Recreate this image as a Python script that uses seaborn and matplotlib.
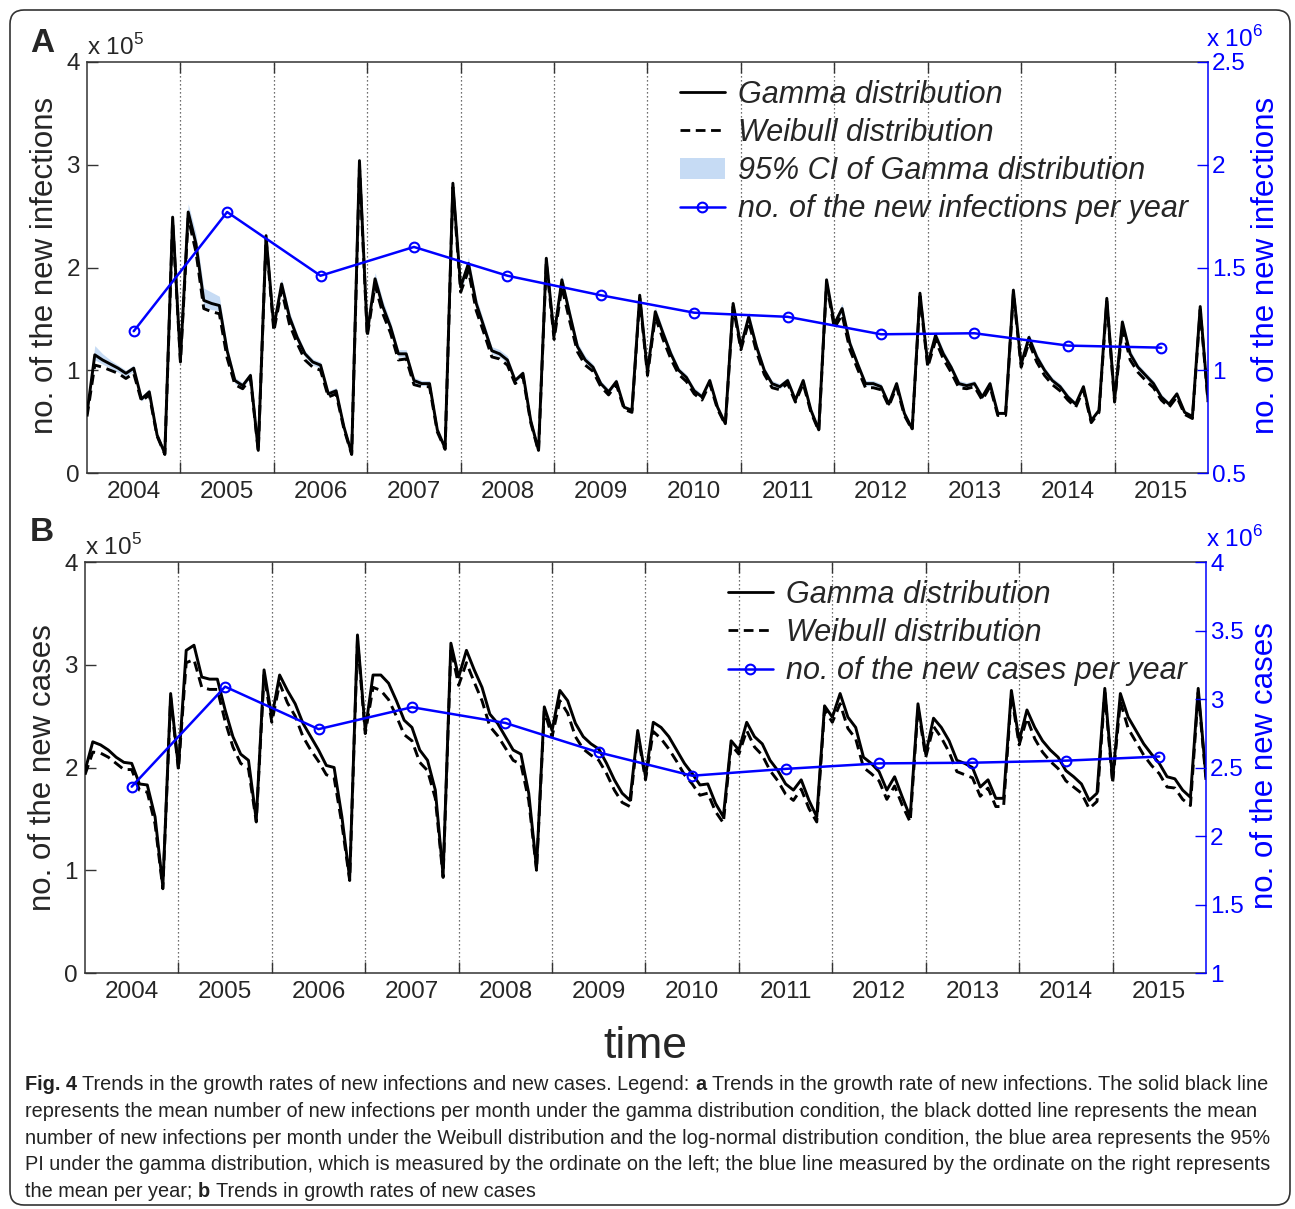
import matplotlib
matplotlib.use("Agg")
import matplotlib.pyplot as plt
import matplotlib.font_manager as fm
from matplotlib.lines import Line2D
from matplotlib.patches import Patch, FancyBboxPatch
from matplotlib.transforms import IdentityTransform
import numpy as np
import pandas as pd
import seaborn as sns

# monthly values, Jan 2004 .. Jan 2016, in units of 10^5
gamma_inf = [0.58, 1.15, 1.10, 1.06, 1.02, 0.97, 1.02, 0.72, 0.79, 0.37, 0.19, 2.49,
             1.10, 2.54, 2.23, 1.68, 1.65, 1.63, 1.19, 0.90, 0.85, 0.95, 0.22, 2.31,
             1.42, 1.84, 1.52, 1.32, 1.16, 1.08, 1.05, 0.77, 0.80, 0.45, 0.19, 3.04,
             1.36, 1.89, 1.62, 1.42, 1.16, 1.16, 0.90, 0.87, 0.87, 0.42, 0.24, 2.82,
             1.81, 2.04, 1.65, 1.42, 1.19, 1.16, 1.10, 0.90, 0.97, 0.51, 0.22, 2.09,
             1.34, 1.88, 1.55, 1.23, 1.10, 1.03, 0.87, 0.79, 0.89, 0.64, 0.61, 1.73,
             0.98, 1.57, 1.36, 1.16, 1.00, 0.93, 0.80, 0.74, 0.90, 0.64, 0.48, 1.65,
             1.23, 1.52, 1.23, 1.00, 0.87, 0.84, 0.90, 0.71, 0.90, 0.61, 0.42, 1.88,
             1.45, 1.60, 1.26, 1.06, 0.87, 0.87, 0.84, 0.67, 0.87, 0.58, 0.43, 1.75,
             1.06, 1.34, 1.16, 1.03, 0.87, 0.85, 0.87, 0.74, 0.87, 0.58, 0.58, 1.78,
             1.06, 1.32, 1.13, 1.00, 0.90, 0.84, 0.74, 0.67, 0.84, 0.51, 0.61, 1.70,
             0.71, 1.47, 1.16, 1.03, 0.95, 0.87, 0.74, 0.67, 0.77, 0.59, 0.55, 1.62,
             0.71]
weibull_inf = [0.55, 1.05, 1.03, 1.00, 0.97, 0.92, 0.97, 0.70, 0.76, 0.36, 0.18, 2.45,
               1.08, 2.48, 2.15, 1.60, 1.57, 1.55, 1.12, 0.86, 0.82, 0.92, 0.21, 2.28,
               1.38, 1.78, 1.45, 1.26, 1.10, 1.03, 1.00, 0.74, 0.77, 0.43, 0.18, 2.98,
               1.33, 1.83, 1.55, 1.36, 1.10, 1.11, 0.86, 0.84, 0.84, 0.40, 0.23, 2.78,
               1.76, 1.97, 1.58, 1.36, 1.13, 1.11, 1.05, 0.87, 0.94, 0.49, 0.21, 2.05,
               1.30, 1.81, 1.48, 1.18, 1.05, 0.99, 0.84, 0.76, 0.86, 0.62, 0.59, 1.70,
               0.95, 1.52, 1.30, 1.11, 0.96, 0.89, 0.77, 0.71, 0.87, 0.62, 0.47, 1.62,
               1.20, 1.47, 1.18, 0.96, 0.83, 0.81, 0.87, 0.69, 0.87, 0.59, 0.41, 1.84,
               1.41, 1.54, 1.20, 1.01, 0.83, 0.83, 0.81, 0.65, 0.84, 0.56, 0.42, 1.72,
               1.03, 1.29, 1.11, 0.98, 0.83, 0.82, 0.84, 0.71, 0.84, 0.56, 0.56, 1.75,
               1.03, 1.27, 1.08, 0.95, 0.86, 0.80, 0.71, 0.64, 0.81, 0.49, 0.59, 1.67,
               0.69, 1.42, 1.10, 0.98, 0.90, 0.83, 0.71, 0.64, 0.74, 0.57, 0.53, 1.59,
               0.69]
ci_high = [0.62, 1.24, 1.16, 1.10, 1.05, 1.00, 1.05, 0.75, 0.82, 0.39, 0.20, 2.53,
           1.13, 2.62, 2.33, 1.80, 1.76, 1.72, 1.24, 0.93, 0.88, 0.98, 0.23, 2.35,
           1.45, 1.89, 1.57, 1.36, 1.19, 1.11, 1.08, 0.80, 0.83, 0.47, 0.20, 3.08,
           1.40, 1.95, 1.68, 1.47, 1.20, 1.20, 0.93, 0.90, 0.90, 0.44, 0.25, 2.86,
           1.86, 2.10, 1.71, 1.47, 1.23, 1.20, 1.14, 0.93, 1.00, 0.53, 0.23, 2.12,
           1.37, 1.93, 1.60, 1.27, 1.14, 1.06, 0.90, 0.82, 0.92, 0.66, 0.63, 1.76,
           1.01, 1.62, 1.40, 1.20, 1.03, 0.96, 0.83, 0.77, 0.93, 0.66, 0.50, 1.68,
           1.26, 1.57, 1.27, 1.03, 0.90, 0.87, 0.93, 0.73, 0.93, 0.63, 0.44, 1.91,
           1.48, 1.65, 1.30, 1.09, 0.90, 0.90, 0.87, 0.69, 0.90, 0.60, 0.45, 1.78,
           1.09, 1.38, 1.20, 1.06, 0.90, 0.88, 0.90, 0.77, 0.90, 0.60, 0.60, 1.81,
           1.09, 1.36, 1.17, 1.03, 0.93, 0.87, 0.77, 0.69, 0.87, 0.53, 0.63, 1.73,
           0.73, 1.51, 1.20, 1.06, 0.98, 0.90, 0.77, 0.69, 0.80, 0.61, 0.57, 1.65,
           0.73]
ci_low = [0.56, 1.10, 1.06, 1.02, 0.98, 0.94, 0.99, 0.70, 0.77, 0.36, 0.18, 2.46,
          1.07, 2.49, 2.17, 1.62, 1.59, 1.58, 1.15, 0.87, 0.83, 0.93, 0.21, 2.28,
          1.39, 1.80, 1.48, 1.28, 1.13, 1.05, 1.02, 0.75, 0.78, 0.43, 0.18, 3.00,
          1.33, 1.85, 1.57, 1.38, 1.13, 1.13, 0.88, 0.85, 0.85, 0.41, 0.23, 2.79,
          1.77, 1.99, 1.60, 1.38, 1.16, 1.13, 1.07, 0.88, 0.95, 0.50, 0.21, 2.06,
          1.31, 1.83, 1.51, 1.20, 1.07, 1.00, 0.85, 0.77, 0.87, 0.63, 0.60, 1.71,
          0.96, 1.54, 1.33, 1.13, 0.98, 0.91, 0.78, 0.72, 0.88, 0.63, 0.47, 1.63,
          1.21, 1.49, 1.20, 0.98, 0.85, 0.82, 0.88, 0.70, 0.88, 0.60, 0.41, 1.85,
          1.42, 1.56, 1.23, 1.04, 0.85, 0.85, 0.82, 0.66, 0.85, 0.57, 0.42, 1.73,
          1.04, 1.31, 1.13, 1.00, 0.85, 0.83, 0.85, 0.72, 0.85, 0.57, 0.57, 1.76,
          1.04, 1.29, 1.10, 0.97, 0.88, 0.82, 0.72, 0.65, 0.82, 0.50, 0.60, 1.68,
          0.70, 1.44, 1.13, 1.00, 0.92, 0.85, 0.72, 0.65, 0.75, 0.58, 0.54, 1.60,
          0.70]
gamma_cases = [1.97, 2.25, 2.22, 2.17, 2.10, 2.05, 2.04, 1.84, 1.83, 1.52, 0.84, 2.72,
               2.00, 3.14, 3.19, 2.88, 2.86, 2.86, 2.56, 2.30, 2.13, 2.07, 1.49, 2.95,
               2.49, 2.90, 2.75, 2.62, 2.43, 2.30, 2.17, 2.02, 2.00, 1.52, 0.92, 3.29,
               2.36, 2.90, 2.90, 2.82, 2.65, 2.46, 2.39, 2.17, 2.07, 1.78, 0.95, 3.21,
               2.88, 3.14, 2.95, 2.78, 2.52, 2.43, 2.30, 2.17, 2.13, 1.75, 1.02, 2.59,
               2.36, 2.75, 2.65, 2.43, 2.30, 2.23, 2.18, 2.04, 1.88, 1.75, 1.68, 2.36,
               1.91, 2.44, 2.39, 2.30, 2.17, 2.04, 1.94, 1.83, 1.84, 1.65, 1.52, 2.26,
               2.17, 2.44, 2.30, 2.23, 2.07, 1.97, 1.84, 1.78, 1.88, 1.68, 1.52, 2.60,
               2.49, 2.72, 2.49, 2.39, 2.10, 2.04, 1.96, 1.78, 1.91, 1.71, 1.52, 2.62,
               2.13, 2.48, 2.39, 2.26, 2.07, 2.04, 2.00, 1.81, 1.88, 1.70, 1.70, 2.75,
               2.26, 2.56, 2.39, 2.26, 2.17, 2.10, 1.97, 1.91, 1.84, 1.68, 1.75, 2.77,
               1.88, 2.72, 2.49, 2.36, 2.23, 2.13, 2.04, 1.91, 1.89, 1.78, 1.71, 2.77,
               1.91]
weibull_cases = [1.93, 2.15, 2.14, 2.10, 2.04, 1.98, 1.98, 1.78, 1.76, 1.45, 0.82, 2.68,
                 1.98, 3.02, 3.05, 2.78, 2.76, 2.76, 2.45, 2.20, 2.04, 1.99, 1.47, 2.90,
                 2.44, 2.82, 2.63, 2.50, 2.30, 2.17, 2.06, 1.93, 1.90, 1.45, 0.90, 3.24,
                 2.33, 2.78, 2.75, 2.66, 2.50, 2.32, 2.26, 2.05, 1.97, 1.70, 0.93, 3.16,
                 2.80, 3.02, 2.83, 2.65, 2.40, 2.31, 2.19, 2.07, 2.03, 1.68, 1.00, 2.55,
                 2.30, 2.65, 2.53, 2.30, 2.18, 2.12, 2.07, 1.94, 1.78, 1.66, 1.62, 2.33,
                 1.88, 2.35, 2.28, 2.18, 2.06, 1.93, 1.84, 1.73, 1.75, 1.57, 1.46, 2.22,
                 2.13, 2.36, 2.20, 2.12, 1.97, 1.87, 1.74, 1.68, 1.79, 1.60, 1.47, 2.56,
                 2.44, 2.62, 2.38, 2.28, 2.00, 1.94, 1.87, 1.69, 1.82, 1.63, 1.47, 2.58,
                 2.10, 2.40, 2.29, 2.15, 1.96, 1.93, 1.90, 1.72, 1.80, 1.62, 1.62, 2.71,
                 2.22, 2.48, 2.28, 2.15, 2.06, 1.99, 1.87, 1.81, 1.75, 1.60, 1.67, 2.73,
                 1.85, 2.64, 2.38, 2.25, 2.12, 2.02, 1.94, 1.81, 1.80, 1.69, 1.63, 2.73,
                 1.88]

# yearly totals, in units of 10^6
years = list(range(2004, 2016))
infections_per_year = [1.19, 1.77, 1.46, 1.60, 1.46, 1.365, 1.28, 1.26, 1.175, 1.18, 1.12, 1.11]
cases_per_year = [2.36, 3.09, 2.78, 2.94, 2.825, 2.61, 2.44, 2.49, 2.53, 2.535, 2.55, 2.58]

left_ticks = [0, 1, 2, 3, 4]
right_ticks_a = [0.5, 1, 1.5, 2, 2.5]
right_ticks_b = [1, 1.5, 2, 2.5, 3, 3.5, 4]

sns.set_theme(style="white")
plt.rcParams['font.family'] = ['Liberation Sans', 'DejaVu Sans']
plt.rcParams['mathtext.fontset'] = 'custom'
plt.rcParams['mathtext.rm'] = 'Liberation Sans'

W, H = 1295, 1209
fig = plt.figure(figsize=(W / 100, H / 100), dpi=100)


def fx(x):
    return x / W


def fy(y):
    return 1 - y / H


months = 2004 + np.arange(len(gamma_inf)) / 12
mid_year = [y + 0.5 for y in years]
TICK = 17.5
CI_COLOR = '#c6dbf4'


def fmt(v):
    return ('%g' % v)


def make_panel(box, gamma, weibull, per_year, rticks, ci=None):
    l, t, r, b = box
    ax = fig.add_axes([fx(l), fy(b), (r - l) / W, (b - t) / H])
    df = pd.DataFrame({'t': months, 'gamma': gamma, 'weibull': weibull})
    if ci is not None:
        ax.fill_between(months, ci[0], ci[1], color=CI_COLOR, lw=0, zorder=1)
    sns.lineplot(data=df, x='t', y='weibull', ax=ax, color='black', lw=2.1,
                 linestyle=(0, (3.5, 2)), zorder=3)
    sns.lineplot(data=df, x='t', y='gamma', ax=ax, color='black', lw=2.1, zorder=4)
    for yr in range(2005, 2016):
        ax.axvline(yr, color='0.25', ls=(0, (1, 2.2)), lw=0.9, zorder=0)
    ax.set_xlim(2004, 2016)
    ax.set_ylim(0, 4)
    ax.set_xlabel('')
    ax.set_ylabel('')
    ax.set_xticks(range(2005, 2016))
    ax.set_xticklabels([])
    ax.set_xticks(mid_year, labels=[str(y) for y in years], minor=True)
    ax.tick_params(axis='x', which='major', direction='in', length=8, width=1,
                   color='0.2', top=True, bottom=True)
    ax.tick_params(axis='x', which='minor', length=0, labelsize=TICK, pad=6)
    ax.set_yticks(left_ticks, labels=[str(v) for v in left_ticks])
    ax.tick_params(axis='y', direction='in', length=8, width=1, color='0.2',
                   labelsize=TICK, pad=5, left=True, right=False)
    for s in ['left', 'bottom', 'top']:
        ax.spines[s].set_color('0.2')
        ax.spines[s].set_linewidth(1.1)
    ax.spines['right'].set_visible(False)

    ax2 = ax.twinx()
    sns.lineplot(x=mid_year, y=per_year, ax=ax2, color='blue', lw=1.8, marker='o',
                 markersize=7, markerfacecolor='none', markeredgecolor='blue',
                 markeredgewidth=1.5)
    ax2.set_ylim(rticks[0], rticks[-1])
    ax2.set_yticks(rticks, labels=[fmt(v) for v in rticks])
    ax2.tick_params(axis='y', direction='in', length=8, width=1, color='blue',
                    labelcolor='blue', labelsize=TICK, pad=3)
    for s in ['left', 'bottom', 'top']:
        ax2.spines[s].set_visible(False)
    ax2.spines['right'].set_color('blue')
    ax2.spines['right'].set_linewidth(1.1)
    ax2.grid(False)
    ax2.set_ylabel('')
    return ax, ax2


axA, axA2 = make_panel((87, 62, 1208, 473), gamma_inf, weibull_inf,
                       infections_per_year, right_ticks_a, ci=(ci_low, ci_high))
axB, axB2 = make_panel((85, 562, 1206, 973), gamma_cases, weibull_cases,
                       cases_per_year, right_ticks_b)

leg_kw = dict(loc='upper left', frameon=False, prop=dict(style='italic', size=22),
              handlelength=1.47, handletextpad=0.42, labelspacing=0.265,
              borderpad=0, borderaxespad=0)
h_gamma = Line2D([], [], color='black', lw=2.0)
h_weib = Line2D([], [], color='black', lw=2.0, linestyle=(0, (3.5, 2)))
h_ci = Patch(facecolor=CI_COLOR, edgecolor='none')
h_year = Line2D([], [], color='blue', lw=1.8, marker='o', markersize=7,
                markerfacecolor='none', markeredgewidth=1.5)
axA2.legend([h_gamma, h_weib, h_ci, h_year],
            ['Gamma distribution', 'Weibull distribution',
             '95% CI of Gamma distribution', 'no. of the new infections per year'],
            bbox_to_anchor=((680 - 87) / 1121, (473 - 80) / 411), **leg_kw)
axB2.legend([h_gamma, h_weib, h_year],
            ['Gamma distribution', 'Weibull distribution',
             'no. of the new cases per year'],
            bbox_to_anchor=((728 - 85) / 1121, (973 - 580) / 411), **leg_kw)

# axis labels, multipliers, panel letters
fig.text(fx(45), fy(265), 'no. of the new infections', rotation=90, ha='center',
         va='center', size=22.5)
fig.text(fx(1266), fy(265), 'no. of the new infections', rotation=90, ha='center',
         va='center', size=22.5, color='blue')
fig.text(fx(43), fy(768), 'no. of the new cases', rotation=90, ha='center',
         va='center', size=22.5)
fig.text(fx(1265), fy(766), 'no. of the new cases', rotation=90, ha='center',
         va='center', size=22.5, color='blue')
fig.text(fx(87), fy(55), r'x 10$^{5}$', size=TICK, ha='left', va='baseline')
fig.text(fx(85), fy(555), r'x 10$^{5}$', size=TICK, ha='left', va='baseline')
fig.text(fx(1206), fy(47), r'x 10$^{6}$', size=TICK, ha='left', va='baseline', color='blue')
fig.text(fx(1206), fy(547), r'x 10$^{6}$', size=TICK, ha='left', va='baseline', color='blue')
fig.text(fx(30), fy(52), 'A', size=24, weight='bold', ha='left', va='baseline')
fig.text(fx(30), fy(541), 'B', size=24, weight='bold', ha='left', va='baseline')
fig.text(fx(645), fy(1058), 'time', size=32, ha='center', va='baseline')

# caption
names = {f.name for f in fm.fontManager.ttflist}
cap_font = 'Liberation Sans Narrow' if 'Liberation Sans Narrow' in names else 'Liberation Sans'
renderer = fig.canvas.get_renderer()
caption = [
    [('Fig. 4', 'bold'), ('Trends in the growth rates of new infections and new cases. Legend:', 'normal'),
     ('a', 'bold'), ('Trends in the growth rate of new infections. The solid black line', 'normal')],
    [('represents the mean number of new infections per month under the gamma distribution '
      'condition, the black dotted line represents the mean', 'normal')],
    [('number of new infections per month under the Weibull distribution and the log-normal '
      'distribution condition, the blue area represents the 95%', 'normal')],
    [('PI under the gamma distribution, which is measured by the ordinate on the left; the blue '
      'line measured by the ordinate on the right represents', 'normal')],
    [('the mean per year;', 'normal'), ('b', 'bold'), ('Trends in growth rates of new cases', 'normal')],
]


def text_w(s, size, weight):
    t = fig.text(0, 0, s, size=size, family=cap_font, weight=weight)
    w = t.get_window_extent(renderer).width
    t.remove()
    return w


cap_size = 15 * 1229 / text_w(caption[1][0][0], 15, 'normal')
space_w = text_w('x x', cap_size, 'normal') - text_w('xx', cap_size, 'normal')
for k, line in enumerate(caption):
    x = 25
    base = 1090 + k * 26.8
    for s, wgt in line:
        fig.text(fx(x), fy(base), s, size=cap_size, family=cap_font, weight=wgt,
                 ha='left', va='baseline', color='#222222')
        x += text_w(s, cap_size, wgt) + space_w

# outer rounded frame
fig.patches.append(FancyBboxPatch((10, 4), 1280, 1195,
                                  boxstyle='round,pad=0,rounding_size=14',
                                  transform=IdentityTransform(), fill=False,
                                  edgecolor='#333333', lw=1.2))

fig.savefig('out.png', dpi=100)
